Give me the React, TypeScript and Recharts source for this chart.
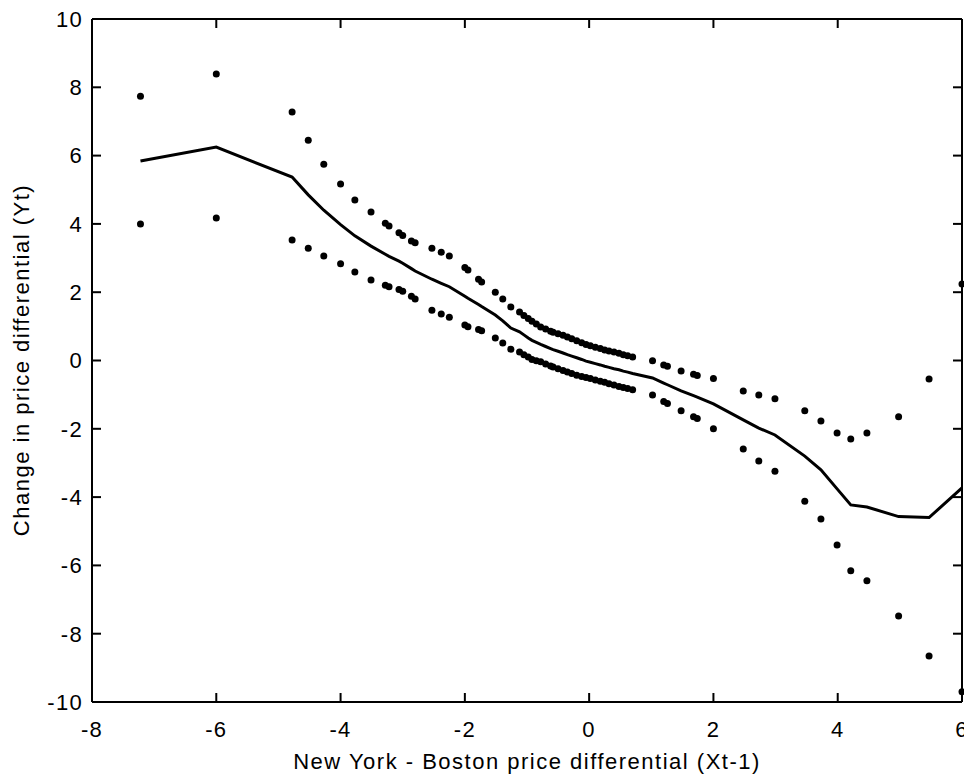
import { ComposedChart, Line, XAxis, YAxis } from "recharts";

// x positions of the kernel estimate (lagged NY - Boston differential)
const X = [
  -7.22, -6.0, -4.78, -4.52, -4.27, -4.0, -3.77, -3.51, -3.28, -3.22, -3.06, -3.0,
  -2.86, -2.8, -2.53, -2.38, -2.25, -2.0, -1.95, -1.78, -1.73, -1.51, -1.39, -1.26,
  -1.12, -1.05, -0.98, -0.92, -0.85, -0.78, -0.7, -0.62, -0.58, -0.5, -0.42, -0.35,
  -0.28, -0.2, -0.12, -0.05, 0.02, 0.1, 0.18, 0.25, 0.32, 0.4, 0.48, 0.55, 0.62, 0.7,
  1.02, 1.2, 1.26, 1.48, 1.68, 1.74, 2.0, 2.48, 2.73, 2.99, 3.47, 3.73, 3.99, 4.21,
  4.47, 4.98, 5.47, 6.0,
];

const FIT = [
  5.84, 6.25, 5.37, 4.85, 4.4, 3.98, 3.65, 3.35, 3.11, 3.05, 2.91, 2.85,
  2.69, 2.62, 2.38, 2.26, 2.16, 1.88, 1.82, 1.64, 1.58, 1.33, 1.16, 0.95,
  0.84, 0.75, 0.66, 0.59, 0.53, 0.47, 0.41, 0.35, 0.32, 0.27, 0.22, 0.17,
  0.13, 0.08, 0.03, -0.02, -0.05, -0.09, -0.13, -0.17, -0.2, -0.24, -0.27, -0.31, -0.34, -0.38,
  -0.51, -0.66, -0.71, -0.89, -1.03, -1.07, -1.27, -1.74, -1.98, -2.18, -2.8, -3.2, -3.76, -4.23,
  -4.29, -4.57, -4.6, -3.73,
];

const UPPER = [
  7.74, 8.39, 7.28, 6.45, 5.75, 5.17, 4.7, 4.35, 4.02, 3.94, 3.74, 3.66,
  3.5, 3.45, 3.29, 3.17, 3.06, 2.72, 2.65, 2.38, 2.3, 2.0, 1.8, 1.57,
  1.42, 1.32, 1.23, 1.15, 1.07, 0.98, 0.92, 0.86, 0.83, 0.78, 0.74, 0.69,
  0.64, 0.58, 0.52, 0.47, 0.43, 0.39, 0.35, 0.31, 0.28, 0.25, 0.21, 0.17, 0.14, 0.1,
  -0.01, -0.13, -0.17, -0.31, -0.4, -0.44, -0.53, -0.89, -1.01, -1.12, -1.47, -1.77, -2.12, -2.3,
  -2.12, -1.65, -0.54, 2.24,
];

const LOWER = [
  4.0, 4.17, 3.53, 3.29, 3.06, 2.83, 2.59, 2.36, 2.2, 2.16, 2.08, 2.03,
  1.88, 1.8, 1.47, 1.36, 1.27, 1.04, 0.99, 0.91, 0.87, 0.66, 0.51, 0.33,
  0.25, 0.17, 0.1, 0.03, -0.01, -0.04, -0.1, -0.16, -0.19, -0.24, -0.29, -0.34,
  -0.38, -0.43, -0.47, -0.5, -0.53, -0.57, -0.61, -0.64, -0.68, -0.72, -0.76, -0.79, -0.82, -0.86,
  -1.01, -1.2, -1.26, -1.47, -1.65, -1.7, -2.0, -2.59, -2.94, -3.24, -4.12, -4.64, -5.4, -6.16,
  -6.45, -7.48, -8.65, -9.7,
];

const X_TICKS = [-8, -6, -4, -2, 0, 2, 4, 6];
const Y_TICKS = [-10, -8, -6, -4, -2, 0, 2, 4, 6, 8, 10];

const FONT = "'Liberation Sans', Arial, Helvetica, sans-serif";
const TS = 6;

// MATLAB-style ticks pointing into the box; offsets = tickSize + tickMargin of each axis
const BottomTick = (p: any) => (
  <g>
    <line x1={p.x} x2={p.x} y1={p.y - 19} y2={p.y - 28} stroke="#000" strokeWidth={2} />
    <text x={p.x} y={p.y} dy="0.71em" textAnchor="middle" fontSize={22} fontFamily={FONT} fill="#000" letterSpacing={1.3}>
      {p.payload.value}
    </text>
  </g>
);
const LeftTick = (p: any) => (
  <g>
    <line x1={p.x + 9} x2={p.x + 18} y1={p.y} y2={p.y} stroke="#000" strokeWidth={2} />
    <text x={p.x} y={p.y} dy="0.355em" textAnchor="end" fontSize={22} fontFamily={FONT} fill="#000" letterSpacing={1.3}>
      {p.payload.value}
    </text>
  </g>
);
const TopTick = (p: any) => (
  <g>
    <line x1={p.x} x2={p.x} y1={p.y + 6} y2={p.y + 15} stroke="#000" strokeWidth={2} />
  </g>
);
const RightTick = (p: any) => (
  <g>
    <line x1={p.x - 6} x2={p.x - 15} y1={p.y} y2={p.y} stroke="#000" strokeWidth={2} />
  </g>
);

const Dot = (p: any) => <circle key={p.index} cx={p.cx} cy={p.cy} r={3.5} fill="#000" />;

const titleStyle = {
  position: "absolute" as const,
  fontFamily: FONT,
  fontSize: 22,
  lineHeight: "22px",
  letterSpacing: 1.5,
  color: "#000",
  whiteSpace: "nowrap" as const,
  textAlign: "center" as const,
};

export default function App() {
  const fit = X.map((x, i) => ({ x, y: FIT[i] }));
  const upper = X.map((x, i) => ({ x, y: UPPER[i] }));
  const lower = X.map((x, i) => ({ x, y: LOWER[i] }));

  return (
    <div style={{ position: "relative", width: 964, height: 773, background: "#fff" }}>
      <ComposedChart width={964} height={773} margin={{ top: 10, right: 9, bottom: 7, left: 10 }}>
        <XAxis
          dataKey="x" type="number" domain={[-8, 6]} ticks={X_TICKS}
          height={72} tickSize={TS} tickMargin={13} tickLine={false}
          axisLine={{ stroke: "#000", strokeWidth: 2 }} tick={BottomTick}
        />
        <XAxis
          xAxisId="top" orientation="top" dataKey="x" type="number" domain={[-8, 6]} ticks={X_TICKS}
          height={1} tickSize={TS} tickMargin={0} tickLine={false}
          axisLine={{ stroke: "#000", strokeWidth: 2 }} tick={TopTick}
        />
        <YAxis
          dataKey="y" type="number" domain={[-10, 10]} ticks={Y_TICKS}
          width={74} tickSize={TS} tickMargin={3} tickLine={false}
          axisLine={{ stroke: "#000", strokeWidth: 2 }} tick={LeftTick}
        />
        <YAxis
          yAxisId="right" orientation="right" dataKey="y" type="number" domain={[-10, 10]} ticks={Y_TICKS}
          width={1} tickSize={TS} tickMargin={0} tickLine={false}
          axisLine={{ stroke: "#000", strokeWidth: 2 }} tick={RightTick}
        />
        {/* unstroked copy of the fit bound to the top/right axes so the box sides get drawn */}
        <Line data={fit} dataKey="y" xAxisId="top" yAxisId="right" stroke="none" dot={false} activeDot={false} isAnimationActive={false} />
        <Line data={fit} dataKey="y" type="linear" stroke="#000" strokeWidth={3} dot={false} isAnimationActive={false} />
        {/* confidence band points: dots only, no connecting line */}
        <Line data={upper} dataKey="y" stroke="none" dot={Dot} activeDot={false} isAnimationActive={false} />
        <Line data={lower} dataKey="y" stroke="none" dot={Dot} activeDot={false} isAnimationActive={false} />
      </ComposedChart>
      <div style={{ ...titleStyle, left: 84, width: 870, top: 743 }}>
        New York - Boston price differential (Xt-1)
      </div>
      <div style={{ ...titleStyle, left: -236, width: 500, top: 341, transform: "rotate(-90deg)" }}>
        Change in price differential (Yt)
      </div>
    </div>
  );
}
